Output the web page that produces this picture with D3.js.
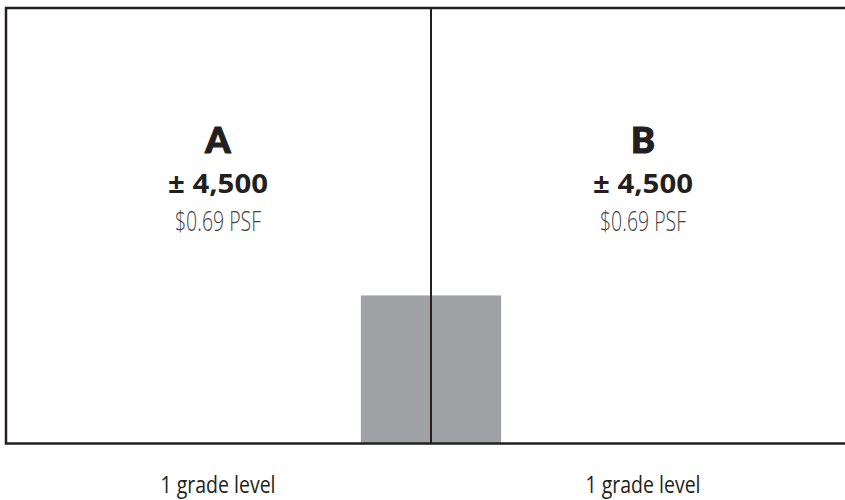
<!DOCTYPE html>
<html>
<head>
<meta charset="utf-8">
<script src="https://cdn.jsdelivr.net/npm/d3@7"></script>
<style>
  html, body { margin: 0; padding: 0; background: #fff; overflow: hidden; }
</style>
</head>
<body>
<div id="plan"></div>
<script>
(function () {
  'use strict';

  // --- Data ---
  const units = ['A', 'B'];
  const areas = ['± 4,500', '± 4,500'];
  const rates = ['$0.69 PSF', '$0.69 PSF'];
  const levels = ['1 grade level', '1 grade level'];
  // shared core (plan units: x in bays, y as fraction of depth)
  const coreX = [0.835, 1.165];
  const coreTop = 0.34;

  const COLORS = {
    wall: '#231f20',
    core: '#a0a1a4',
    text: '#231f20',
    textMuted: '#414042',
  };

  const W = 845, H = 500;

  const svg = d3.select('#plan').append('svg')
    .attr('width', W).attr('height', H);

  const x = d3.scaleLinear().domain([0, units.length]).range([6, 856]);
  const y = d3.scaleLinear().domain([0, 1]).range([443.5, 8]);

  // Core
  svg.append('rect')
    .attr('x', x(coreX[0]))
    .attr('y', y(coreTop))
    .attr('width', x(coreX[1]) - x(coreX[0]))
    .attr('height', y(0) - y(coreTop))
    .attr('fill', COLORS.core);

  // Outer walls
  svg.append('rect')
    .attr('x', x(0)).attr('y', y(1))
    .attr('width', x(units.length) - x(0))
    .attr('height', y(0) - y(1))
    .attr('fill', 'none')
    .attr('stroke', COLORS.wall)
    .attr('stroke-width', 2.5);

  // Demising walls
  d3.range(1, units.length).forEach(i => {
    svg.append('line')
      .attr('x1', x(i)).attr('x2', x(i))
      .attr('y1', y(1)).attr('y2', y(0))
      .attr('stroke', COLORS.wall)
      .attr('stroke-width', 2);
  });

  // Labels
  const g = svg.selectAll('.unit')
    .data(units)
    .join('g')
    .attr('class', 'unit')
    .attr('transform', (d, i) => `translate(${x(i + 0.5) - 0.5},0)`);

  g.append('text')
    .attr('y', 153)
    .attr('text-anchor', 'middle')
    .attr('fill', COLORS.text)
    .attr('font-family', "Lato, 'Open Sans', sans-serif")
    .attr('font-weight', 900)
    .attr('font-size', '36px')
    .attr('stroke', COLORS.text)
    .attr('stroke-width', 1.2)
    .text(d => d);

  g.append('text')
    .attr('y', 193)
    .attr('text-anchor', 'middle')
    .attr('fill', COLORS.text)
    .attr('font-family', "'Open Sans', sans-serif")
    .attr('font-weight', 700)
    .attr('font-size', '27px')
    .attr('textLength', 100)
    .attr('lengthAdjust', 'spacingAndGlyphs')
    .text((d, i) => areas[i]);

  g.append('text')
    .attr('y', 231)
    .attr('text-anchor', 'middle')
    .attr('fill', COLORS.textMuted)
    .attr('font-family', "'Open Sans', sans-serif")
    .attr('font-weight', 300)
    .attr('font-size', '27px')
    .attr('textLength', 86)
    .attr('lengthAdjust', 'spacingAndGlyphs')
    .text((d, i) => rates[i]);

  g.append('text')
    .attr('y', 493)
    .attr('text-anchor', 'middle')
    .attr('fill', COLORS.text)
    .attr('font-family', "'Open Sans', sans-serif")
    .attr('font-size', '24px')
    .attr('textLength', 115)
    .attr('lengthAdjust', 'spacingAndGlyphs')
    .text((d, i) => levels[i]);
})();
</script>
</body>
</html>
